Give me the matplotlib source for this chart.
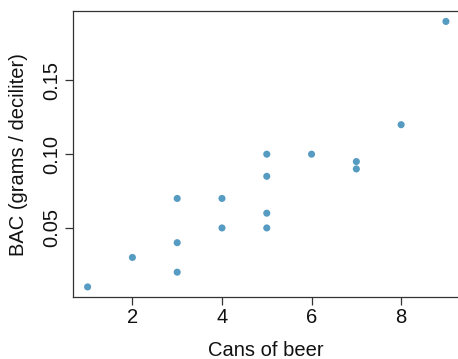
import matplotlib
matplotlib.use("Agg")
import matplotlib.pyplot as plt

# Dosen Bier vs. Blutalkohol
cans = [5, 2, 9, 8, 3, 7, 3, 5, 3, 5, 4, 6, 5, 7, 1, 4]
bac = [0.10, 0.03, 0.19, 0.12, 0.04, 0.095, 0.07, 0.06, 0.02, 0.05, 0.07, 0.10, 0.085, 0.09, 0.01, 0.05]

x_ticks = [2, 4, 6, 8]
y_ticks = [0.05, 0.10, 0.15]

plt.rcParams["font.family"] = ["Liberation Sans", "DejaVu Sans"]

fig = plt.figure(figsize=(4.58, 3.59), dpi=100)
ax = fig.add_axes([0.160, 0.172, 0.842, 0.797])

ax.scatter(cans, bac, s=26, color="#569bc2", edgecolors="none", zorder=3)

ax.set_xlim(0.68, 9.29)
ax.set_ylim(0.003, 0.197)
ax.set_xticks(x_ticks)
ax.set_xticklabels([str(t) for t in x_ticks])
ax.set_yticks(y_ticks)
ax.set_yticklabels([f"{t:.2f}" for t in y_ticks], rotation=90, va="center")

for side in ["left", "bottom", "top"]:
    ax.spines[side].set_color("#333333")
    ax.spines[side].set_linewidth(0.9)
ax.spines["right"].set_visible(False)

ax.tick_params(axis="both", length=6, width=0.9, color="#333333",
               labelsize=14.5, labelcolor="#111111")
ax.tick_params(axis="x", pad=2)
ax.tick_params(axis="y", pad=3)

ax.set_xlabel("Cans of beer", fontsize=14.5, labelpad=10, color="#111111")
ax.set_ylabel("BAC (grams / deciliter)", fontsize=14.5, labelpad=10, color="#111111")

fig.savefig("out.png", dpi=100)
